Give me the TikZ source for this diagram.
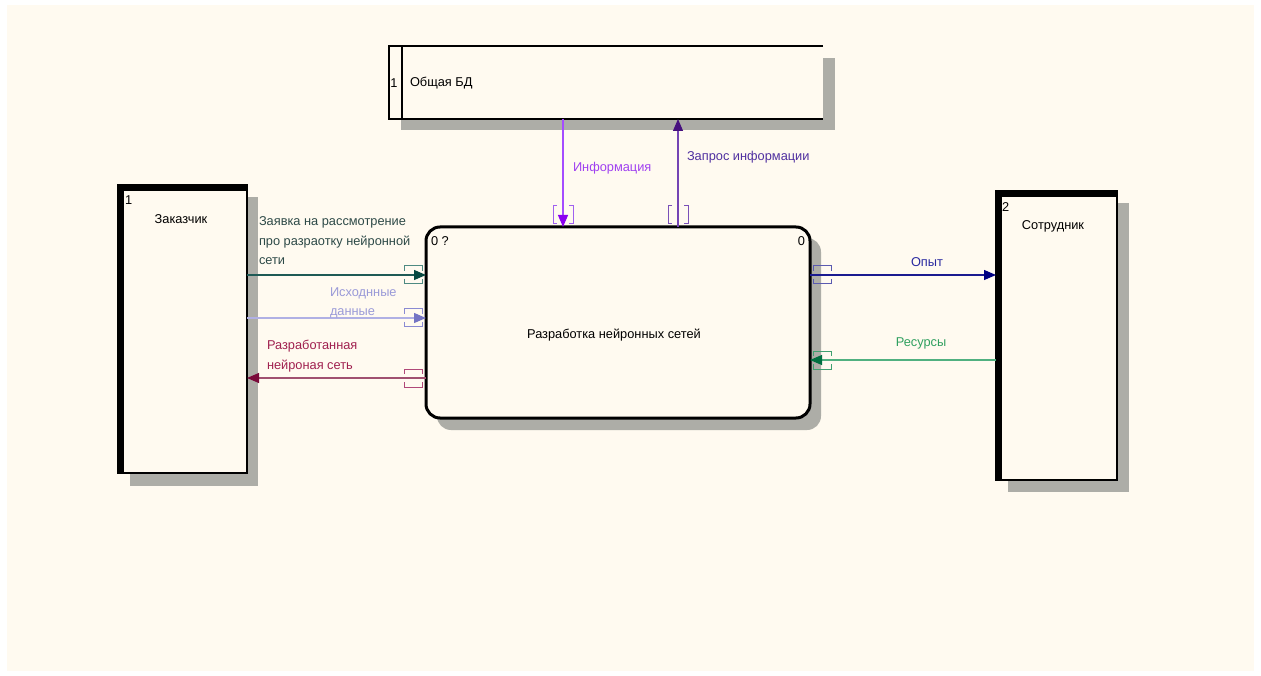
\documentclass[tikz,border=0pt]{standalone}
\usepackage{fontspec}
\setmainfont{Liberation Sans}
\usetikzlibrary{arrows.meta,calc}

\definecolor{paper}{HTML}{FFFAF0}
\definecolor{shadowgray}{HTML}{ADADA7}
% flow colours: line, tip, label, bracket
\definecolor{reqLine}{HTML}{1E5A55}\definecolor{reqTip}{HTML}{064840}\definecolor{reqText}{HTML}{2E4A48}\definecolor{reqBr}{HTML}{4E8A82}
\definecolor{srcLine}{HTML}{B0B0E4}\definecolor{srcTip}{HTML}{7474C4}\definecolor{srcText}{HTML}{9A9AD8}\definecolor{srcBr}{HTML}{8A8AD2}
\definecolor{outLine}{HTML}{A05070}\definecolor{outTip}{HTML}{7A0A3A}\definecolor{outText}{HTML}{A0204F}\definecolor{outBr}{HTML}{B04878}
\definecolor{infLine}{HTML}{A44CFF}\definecolor{infTip}{HTML}{8A00F0}\definecolor{infText}{HTML}{A040F0}\definecolor{infBr}{HTML}{A060F0}
\definecolor{askLine}{HTML}{7444B4}\definecolor{askTip}{HTML}{46107E}\definecolor{askText}{HTML}{5030A0}\definecolor{askBr}{HTML}{7A50B8}
\definecolor{expLine}{HTML}{1A1A90}\definecolor{expTip}{HTML}{000080}\definecolor{expText}{HTML}{2828A0}\definecolor{expBr}{HTML}{5A5AB0}
\definecolor{resLine}{HTML}{50B080}\definecolor{resTip}{HTML}{007040}\definecolor{resText}{HTML}{30A060}\definecolor{resBr}{HTML}{40A070}

% bracket open on the left/right sides (for horizontal flows)
\newcommand\hbrk[3]{%
  \draw[#1,line width=1pt] (#2-9,#3-4) -- (#2-9,#3-9) -- (#2+9,#3-9) -- (#2+9,#3-4)
    (#2-9,#3+4) -- (#2-9,#3+9) -- (#2+9,#3+9) -- (#2+9,#3+4);}
% bracket open on the top/bottom sides (for vertical flows)
\newcommand\vbrk[3]{%
  \draw[#1,line width=1pt] (#2-6,#3-9) -- (#2-10,#3-9) -- (#2-10,#3+9) -- (#2-6,#3+9)
    (#2+6,#3-9) -- (#2+10,#3-9) -- (#2+10,#3+9) -- (#2+6,#3+9);}

\begin{document}
\begin{tikzpicture}[x=1pt,y=-1pt,
  font=\fontsize{12.8}{19.5}\selectfont,
  boxshape/.style={inner sep=0pt,outer sep=0pt,anchor=north west,fill=paper},
  txt/.style={inner sep=0pt,outer sep=0pt},
  flow/.style={line width=1.1pt,-{Triangle[length=12pt,width=10pt,color=#1]}},
  lbl/.style={txt,anchor=west,align=left}]

\useasboundingbox (0,0) rectangle (1261,676);
\fill[white] (0,0) rectangle (1261,676);
\fill[paper] (7,5) rectangle (1254,671);

% drop shadows
\fill[shadowgray] (401,58) rectangle (835,130);
\fill[shadowgray] (130,197) rectangle (258,486);
\fill[shadowgray] (1008,203) rectangle (1129,492);
\fill[shadowgray,rounded corners=14pt] (437,238) rectangle (821,430);

% data store
\node[boxshape,minimum width=434pt,minimum height=73pt] (store) at (389,46) {};
\draw[line width=2.6pt] (store.north east) -- (store.north west) -- (store.south west) -- (store.south east);
\draw[line width=2.2pt] ([xshift=13pt]store.north west) -- ([xshift=13pt]store.south west);
\node[txt] (storeid) at (394,83) {1};
\node[txt,anchor=west] (storename) at (410,83) {Общая БД};

% external entities
\node[boxshape,draw,line width=2.6pt,minimum width=129pt,minimum height=288pt] (zak) at (118,185) {};
\fill (zak.north west) rectangle ($(zak.north east)+(0,6)$);
\fill (zak.north west) rectangle ($(zak.south west)+(6,0)$);
\node[txt,anchor=west] (zakid) at (125,200) {1};
\node[txt] (zakname) at (181,219) {Заказчик};

\node[boxshape,draw,line width=2.6pt,minimum width=121pt,minimum height=289pt] (sotr) at (996,191) {};
\fill (sotr.north west) rectangle ($(sotr.north east)+(0,6)$);
\fill (sotr.north west) rectangle ($(sotr.south west)+(6,0)$);
\node[txt,anchor=west] (sotrid) at (1002,207) {2};
\node[txt] (sotrname) at (1053,226) {Сотрудник};

% process
\node[boxshape,draw,line width=3pt,rounded corners=14pt,minimum width=384pt,minimum height=191pt] (proc) at (426,227) {};
\node[txt,anchor=west] (procid) at (431,241) {0 ?};
\node[txt,anchor=east] (procnum) at (805,241) {0};
\node[txt] (procname) at (614,335) {Разработка нейронных сетей};

% flows
\draw[flow=reqTip,reqLine] (zak.east |- 0,275) -- (proc.west |- 0,275);
\draw[flow=srcTip,srcLine] (zak.east |- 0,318) -- (proc.west |- 0,318);
\draw[flow=outTip,outLine] (proc.west |- 0,378) -- (zak.east |- 0,378);
\draw[flow=infTip,infLine] (store.south -| 563,0) -- (proc.north -| 563,0);
\draw[flow=askTip,askLine] (proc.north -| 678,0) -- (store.south -| 678,0);
\draw[flow=expTip,expLine] (proc.east |- 0,275) -- (sotr.west |- 0,275);
\draw[flow=resTip,resLine] (sotr.west |- 0,360) -- (proc.east |- 0,360);

% tunnel brackets
\hbrk{reqBr}{413}{275}
\hbrk{srcBr}{413}{318}
\hbrk{outBr}{413}{378}
\hbrk{expBr}{822}{275}
\hbrk{resBr}{822}{360}
\vbrk{infBr}{563}{215}
\vbrk{askBr}{678}{215}

% flow labels
\node[lbl,text=reqText] (reqlbl) at (259,241) {Заявка на рассмотрение\\про разраотку нейронной\\сети};
\node[lbl,text=srcText] (srclbl) at (330,303) {Исходнные\\данные};
\node[lbl,text=outText] (outlbl) at (267,356) {Разработанная\\нейроная сеть};
\node[lbl,text=infText] (inflbl) at (573,168) {Информация};
\node[lbl,text=askText] (asklbl) at (687,157) {Запрос информации};
\node[txt,text=expText] (explbl) at (927,262) {Опыт};
\node[txt,text=resText] (reslbl) at (921,343) {Ресурсы};
\end{tikzpicture}
\end{document}
